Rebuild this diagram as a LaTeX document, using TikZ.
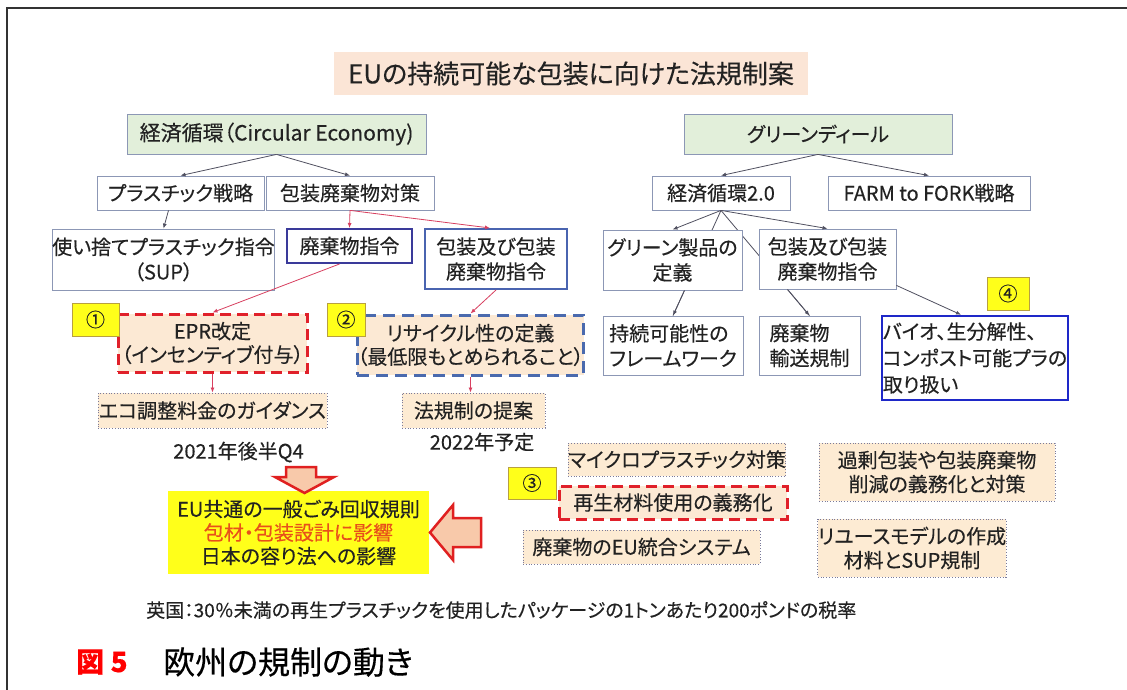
\documentclass[tikz,border=0pt]{standalone}
\usepackage{fontspec}
\newfontfamily\jp[RawFeature=+palt, FakeBold=0.3]{Noto Sans CJK JP}
\usetikzlibrary{arrows.meta,backgrounds}
\definecolor{titlefill}{HTML}{FBE5D6}
\definecolor{greenfill}{HTML}{E2EFDA}
\definecolor{boxgray}{HTML}{8C97B5}
\definecolor{haikiblue}{HTML}{3A3A9A}
\definecolor{hosoblue}{HTML}{4A64B0}
\definecolor{bioblue}{HTML}{1E28C8}
\definecolor{dred}{HTML}{E0202A}
\definecolor{dblue}{HTML}{4A6AAE}
\definecolor{peach}{HTML}{FCE9D4}
\definecolor{cream}{HTML}{FDEBD3}
\definecolor{dotgray}{HTML}{7A7A9A}
\definecolor{numborder}{HTML}{B8A040}
\definecolor{numyellow}{HTML}{FFFF1A}
\definecolor{arrgray}{HTML}{505060}
\definecolor{arrred}{HTML}{D84060}
\definecolor{bigfill}{HTML}{F8C9AA}
\definecolor{bigred}{HTML}{E02020}
\definecolor{orangetext}{HTML}{E8501A}
\definecolor{txt}{HTML}{222222}
\tikzset{
  box/.style={draw=boxgray, line width=0.8pt, fill=white, inner sep=0pt, align=center,
    text=txt, font=\jp\fontsize{20}{25}\selectfont},
  greenbox/.style={box, fill=greenfill},
  rdash/.style={box, draw=dred, line width=3pt, dash pattern=on 11pt off 6pt, fill=peach,
    font=\jp\fontsize{20}{23.5}\selectfont},
  bdash/.style={box, draw=dblue, line width=3pt, dash pattern=on 12pt off 7pt, fill=peach,
    font=\jp\fontsize{20}{23.5}\selectfont},
  dotbox/.style={box, draw=dotgray, dotted, line width=0.9pt, fill=cream},
  numbox/.style={draw=numborder, line width=0.8pt, fill=numyellow, inner sep=0pt, text=txt,
    font=\jp\fontsize{19}{19}\selectfont},
  garr/.style={draw=arrgray, line width=0.8pt, -{Latex[length=5pt,width=4pt]}},
  rarr/.style={draw=arrred, line width=0.8pt, -{Latex[length=5pt,width=4pt]}},
  bigarrow/.style={draw=bigred, line width=2.5pt, fill=bigfill, line join=miter},
  plain/.style={inner sep=0pt, text=txt, font=\jp\fontsize{20}{24}\selectfont}
}
\begin{document}
\begin{tikzpicture}[x=1pt,y=-1pt]
\useasboundingbox (0,0) rectangle (1127,690);
% frame
\draw[line width=2pt, draw=black!80] (7,690) -- (7,8) -- (1127,8);
% title
\node[fill=titlefill, minimum width=474pt, minimum height=43pt, inner sep=0pt, text=txt,
  font=\jp\fontsize{26}{26}\selectfont] (title) at (571,73.5) {EUの持続可能な包装に向けた法規制案};
% level 1
\node[greenbox, minimum width=299pt, minimum height=40pt, font=\jp\fontsize{21}{25}\selectfont] (ce) at (276.5,134) {経済循環（Circular Economy)};
\node[greenbox, minimum width=268pt, minimum height=40pt] (gd) at (818,134) {グリーンディール};
% level 2
\node[box, minimum width=167pt, minimum height=34pt] (pura) at (180.5,193) {プラスチック戦略};
\node[box, minimum width=168pt, minimum height=34pt] (hoso) at (350,193) {包装廃棄物対策};
\node[box, minimum width=138pt, minimum height=34pt] (k20) at (721,193) {経済循環2.0};
\node[box, minimum width=202pt, minimum height=34pt] (farm) at (929,193) {FARM to FORK戦略};
% level 3
\node[box, minimum width=219pt, minimum height=61pt] (tsukai) at (163.5,259.5) {使い捨てプラスチック指令\\（SUP）};
\node[box, draw=haikiblue, line width=2pt, minimum width=125pt, minimum height=34pt] (haiki) at (349.5,246) {廃棄物指令};
\node[box, draw=hosoblue, line width=2pt, minimum width=142pt, minimum height=60pt] (hosoL) at (496,259) {包装及び包装\\廃棄物指令};
\node[box, minimum width=139pt, minimum height=60pt] (gp) at (672.5,260) {グリーン製品の\\定義};
\node[box, minimum width=137pt, minimum height=60pt] (hosoR) at (827.5,259) {包装及び包装\\廃棄物指令};
% level 4
\node[rdash, minimum width=189pt, minimum height=58pt] (epr) at (212.5,343) {EPR改定\\（インセンティブ付与）};
\node[bdash, minimum width=223pt, minimum height=60pt] (risa) at (470.5,345) {リサイクル性の定義\\（最低限もとめられること）};
\node[box, align=left, minimum width=140pt, minimum height=59pt] (jizoku) at (673,345.5) {持続可能性の\\フレームワーク};
\node[box, align=left, minimum width=101pt, minimum height=59pt] (yuso) at (809.5,345.5) {廃棄物\\輸送規制};
\node[box, draw=bioblue, line width=2.5pt, align=left, minimum width=186pt, minimum height=84pt,
  font=\jp\fontsize{20}{26.5}\selectfont] (bio) at (975,358) {バイオ、生分解性、\\コンポスト可能プラの\\取り扱い};
% level 5
\node[dotbox, minimum width=229pt, minimum height=35pt] (eco) at (212.5,410.5) {エコ調整料金のガイダンス};
\node[dotbox, minimum width=143pt, minimum height=35pt] (hoki) at (473.5,410.5) {法規制の提案};
\node[plain] (y2021) at (238.5,452) {2021年後半Q4};
\node[plain] (y2022) at (482,442) {2022年予定};
% lower right boxes
\node[dotbox, minimum width=216pt, minimum height=33pt] (micro) at (677,459.5) {マイクロプラスチック対策};
\node[rdash, minimum width=228pt, minimum height=33pt] (saisei) at (673,502.5) {再生材料使用の義務化};
\node[dotbox, minimum width=237pt, minimum height=34pt] (eusys) at (641.5,547) {廃棄物のEU統合システム};
\node[dotbox, minimum width=236pt, minimum height=58pt, font=\jp\fontsize{20}{24}\selectfont] (kajo) at (937,472) {過剰包装や包装廃棄物\\削減の義務化と対策};
\node[dotbox, minimum width=186pt, minimum height=58pt, font=\jp\fontsize{20}{24}\selectfont] (reuse) at (912,548) {リユースモデルの作成\\材料とSUP規制};
% number boxes (on top of the dashed boxes)
\node[numbox, minimum width=47pt, minimum height=33pt] (n1) at (95.5,319.5) {①};
\node[numbox, minimum width=38pt, minimum height=33pt] (n2) at (346,319.5) {②};
\node[numbox, minimum width=42pt, minimum height=33pt] (n4) at (1008,293.5) {④};
\node[numbox, minimum width=48pt, minimum height=32pt] (n3) at (532,483) {③};
% big yellow box
\node[fill=numyellow, minimum width=261pt, minimum height=83pt, inner sep=0pt, align=center, text=txt,
  font=\jp\fontsize{20}{23.5}\selectfont] (ybox) at (298.5,532.5)
  {EU共通の一般ごみ回収規則\\\textcolor{orangetext}{包材・包装設計に影響}\\日本の容り法への影響};
% big arrows
\draw[bigarrow] (286,467) -- (316,467) -- (316,477) -- (334,477) -- (304.5,493) -- (275,477) -- (286,477) -- cycle;
\draw[bigarrow] (430,532.5) -- (453,505) -- (453,518) -- (481,518) -- (481,547) -- (453,547) -- (453,560) -- cycle;
% bottom texts
\node[plain, anchor=west, font=\jp\fontsize{19}{20}\selectfont] (uk) at (146,610) {英国：30％未満の再生プラスチックを使用したパッケージの1トンあたり200ポンドの税率};
\node[inner sep=0pt, anchor=west, text=red, font=\jp\bfseries\fontsize{28}{30}\selectfont] (fig) at (76,662) {図 5};
\node[inner sep=0pt, anchor=west, text=black, font=\jp\fontsize{32}{34}\selectfont] (cap) at (163,662) {欧州の規制の動き};
% hidden connectors behind boxes
\begin{scope}[on background layer]
\fill[white] (0,0) rectangle (1127,690);
\draw[draw=arrgray, line width=0.8pt] (k20.south) -- (jizoku.north);
\draw[draw=arrgray, line width=0.8pt] (k20.south) -- (yuso.north);
\end{scope}
% connectors
\draw[garr] (ce.south) -- (pura.north);
\draw[garr] (ce.south) -- (hoso.north);
\draw[garr] ([xshift=-12pt]pura.south) -- (tsukai.north);
\draw[rarr] (hoso.south) -- (haiki.north);
\draw[rarr] (hoso.south) -- ([xshift=-6pt]hosoL.north);
\draw[rarr] ([xshift=-10pt]haiki.south) -- (epr.north);
\draw[rarr] (hosoL.south) -- (risa.north);
\draw[rarr] (epr.south) -- (eco.north);
\draw[rarr] (risa.south) -- (risa.south |- hoki.north);
\draw[garr] (gd.south) -- (k20.north);
\draw[garr] (gd.south) -- (farm.north);
\draw[garr] (k20.south) -- (gp.north);
\draw[garr] (k20.south) -- (hosoR.north);
\draw[garr] ([xshift=12pt]gp.south) -- (jizoku.north);
\draw[garr] ([xshift=-40pt]hosoR.south) -- (yuso.north);
\draw[garr] ([yshift=4pt]hosoR.south east) -- ([xshift=-14pt]bio.north);
\end{tikzpicture}
\end{document}
